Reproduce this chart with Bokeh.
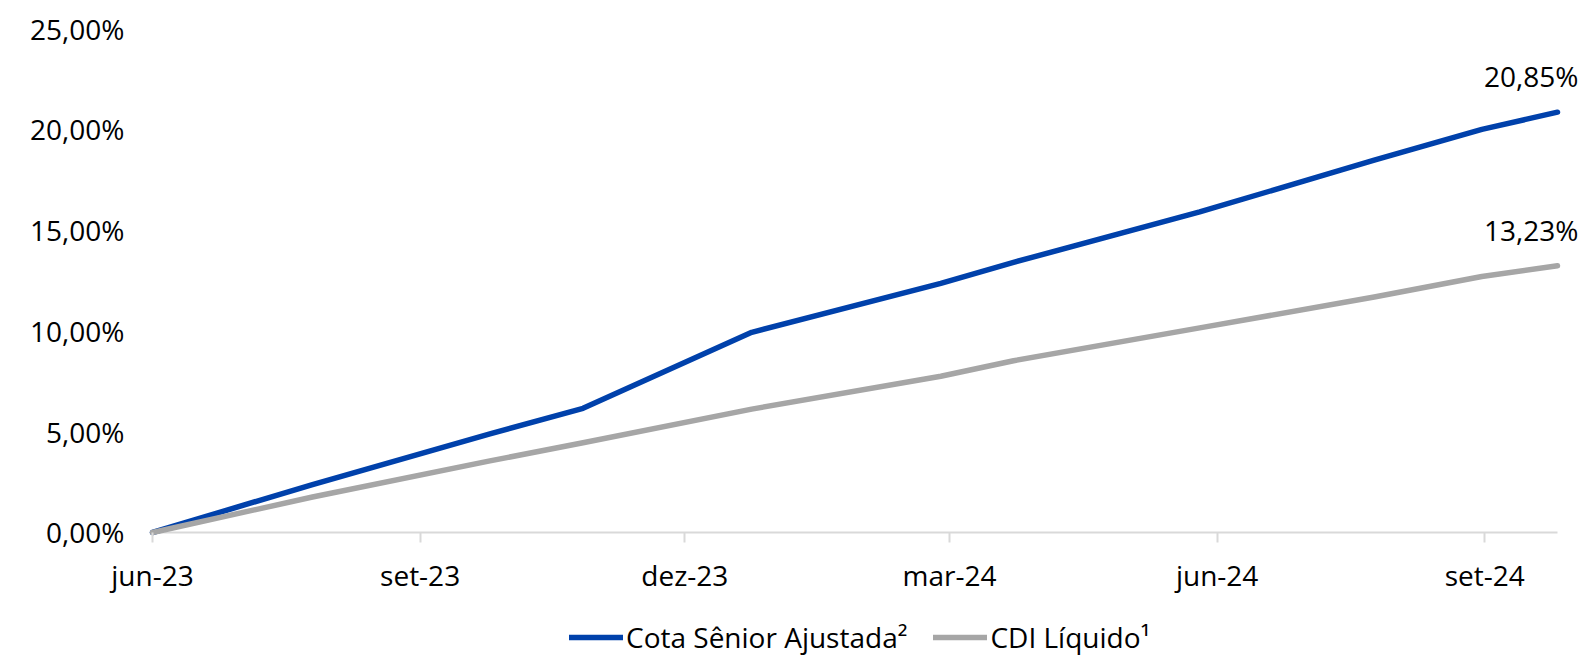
from datetime import datetime, timedelta
from bokeh.plotting import figure
from bokeh.models import (ColumnDataSource, Range1d, FixedTicker, Legend, LegendItem,
                          LabelSet)
from bokeh.core.properties import value
from bokeh.embed import file_html
from bokeh.resources import INLINE

# ---- data ----
dates = ["2023-06-01", "2023-07-26", "2023-09-25", "2023-10-27", "2023-12-24",
         "2024-02-27", "2024-03-23", "2024-05-26", "2024-07-25", "2024-08-31",
         "2024-09-26"]
cota_senior = [0.00, 2.38, 4.89, 6.16, 9.93, 12.36, 13.40, 15.90, 18.47, 20.00, 20.85]
cdi_liquido = [0.00, 1.76, 3.55, 4.45, 6.12, 7.75, 8.52, 10.15, 11.68, 12.70, 13.23]

tick_dates = ["2023-06-01", "2023-09-01", "2023-12-01", "2024-03-01", "2024-06-01", "2024-09-01"]
tick_labels = ["jun-23", "set-23", "dez-23", "mar-24", "jun-24", "set-24"]
y_ticks = [0, 5, 10, 15, 20, 25]
y_labels = ["0,00%", "5,00%", "10,00%", "15,00%", "20,00%", "25,00%"]
series_names = ["Cota Sênior Ajustada²", "CDI Líquido¹"]
end_labels = ["20,85%", "13,23%"]

BLUE = "#0041AB"
GRAY = "#A6A6A6"
AXIS = "#D9D9D9"
FONT = "Open Sans"
FS = "28px"

EPOCH = datetime(1970, 1, 1)

def ms(s):
    return (datetime.strptime(s, "%Y-%m-%d") - EPOCH).total_seconds() * 1000.0

x = [datetime.strptime(d, "%Y-%m-%d") for d in dates]
src = ColumnDataSource(dict(x=x, a=cota_senior, b=cdi_liquido))

# frame covers the whole canvas; axes are fixed inside it
p = figure(width=1588, height=660, x_axis_type="datetime",
           output_backend="svg", toolbar_location=None,
           x_range=Range1d(x[0] - timedelta(days=52.25), x[-1] + timedelta(days=10.66)),
           y_range=Range1d(-6.35, 26.39),
           min_border_left=0, min_border_right=0, min_border_top=0,
           min_border_bottom=0)
p.outline_line_color = None
p.xgrid.grid_line_color = None
p.ygrid.grid_line_color = None

# baseline of the axis (ends at the last data point)
p.segment(x0=[x[0]], y0=[y_ticks[0]], x1=[x[-1]], y1=[y_ticks[0]],
          line_color=AXIS, line_width=2)

r1 = p.line("x", "a", source=src, line_color=BLUE, line_width=5.5,
            line_cap="round", line_join="round")
r2 = p.line("x", "b", source=src, line_color=GRAY, line_width=5.5,
            line_cap="round", line_join="round")

# x axis, fixed at y = 0
xt = [ms(d) for d in tick_dates]
p.xaxis.fixed_location = y_ticks[0]
p.xaxis.ticker = FixedTicker(ticks=xt)
p.xaxis.major_label_overrides = {t: l for t, l in zip(xt, tick_labels)}
p.xaxis.axis_line_color = None
p.xaxis.major_tick_line_color = AXIS
p.xaxis.major_tick_line_width = 2
p.xaxis.major_tick_out = 10
p.xaxis.major_tick_in = 0
p.xaxis.minor_tick_line_color = None
p.xaxis.major_label_text_font = FONT
p.xaxis.major_label_text_font_size = FS
p.xaxis.major_label_text_color = "#000000"
p.xaxis.major_label_standoff = 14

# y axis, fixed at the first date
p.yaxis.fixed_location = ms(dates[0])
p.yaxis.ticker = FixedTicker(ticks=y_ticks)
p.yaxis.major_label_overrides = {t: l for t, l in zip(y_ticks, y_labels)}
p.yaxis.axis_line_color = None
p.yaxis.major_tick_line_color = None
p.yaxis.minor_tick_line_color = None
p.yaxis.major_label_text_font = FONT
p.yaxis.major_label_text_font_size = FS
p.yaxis.major_label_text_color = "#000000"
p.yaxis.major_label_standoff = 22

# end labels
lab_src = ColumnDataSource(dict(x=[x[-1], x[-1]], y=[cota_senior[-1], cdi_liquido[-1]],
                                t=end_labels))
labels = LabelSet(x="x", y="y", text="t", source=lab_src, text_align="right",
                  text_baseline="middle", x_offset=21, y_offset=36,
                  text_font=value(FONT), text_font_size=value(FS),
                  text_color="#000000")
p.add_layout(labels)

legend = Legend(items=[LegendItem(label=series_names[0], renderers=[r1]),
                       LegendItem(label=series_names[1], renderers=[r2])],
                orientation="horizontal", location=(569, 4),
                glyph_width=54, glyph_height=28, label_standoff=3, spacing=26,
                padding=0, margin=0,
                label_text_font=FONT, label_text_font_size=FS,
                label_text_color="#000000",
                background_fill_alpha=0, border_line_color=None)
p.add_layout(legend, "center")

open("out.html", "w").write(file_html(p, INLINE))
